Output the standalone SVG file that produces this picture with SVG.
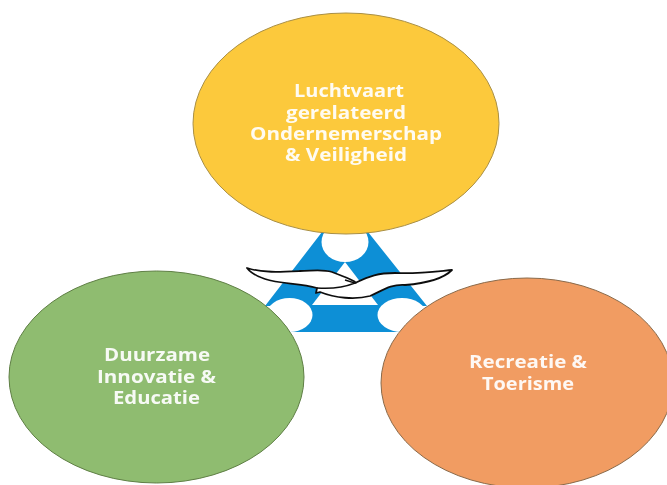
<svg xmlns="http://www.w3.org/2000/svg" width="667" height="485" viewBox="0 0 667 485">
<style>
.t{font-family:"Open Sans","Liberation Sans",sans-serif;font-weight:700;font-size:17px;fill:#fff;text-anchor:start;fill-opacity:.93}
.e{stroke-width:1}
</style>
<defs><filter id="soft" x="-5%" y="-5%" width="110%" height="110%"><feGaussianBlur stdDeviation="0.45"/></filter></defs>
<rect width="667" height="485" fill="#fff"/>
<g id="logo" filter="url(#soft)">
<path d="M322,232 L368,232 L427,306 L402,306 L402,332 L290,332 L290,306 L265,306 Z" fill="#0f8fd6"/>
<ellipse cx="345" cy="242" rx="23.500" ry="20" fill="#fff"/>
<ellipse cx="289.500" cy="315" rx="23" ry="17" fill="#fff"/>
<ellipse cx="402" cy="315" rx="24.500" ry="17" fill="#fff"/>
<polygon points="345,262 378,305 312,305" fill="#fff"/>
<path d="M247,268 C262,273 280,272 300,271 C312,271 322,269 332,272 C345,277 358,282 355,283 C370,276 378,273 395,273 C420,274 440,271 452,270 C445,277 430,283 405,285 C390,284 382,291 370,296 C355,300 335,298 320,292 L316,293 L317,288 C300,283 280,284 265,279 C256,276 250,272 247,268 Z" fill="#fff" stroke="#111" stroke-width="1.8" stroke-linejoin="round"/>
<path d="M345,280 L355,283 C345,287 330,289 317,288" fill="none" stroke="#111" stroke-width="1.5"/>
</g>
<g id="node-top"><ellipse class="e" cx="346" cy="123.500" rx="153" ry="110.500" fill="#fcc93c" stroke="#a98f45"/>
<text class="t" x="294" y="97" textLength="110" lengthAdjust="spacingAndGlyphs" filter="url(#soft)">Luchtvaart</text><text class="t" x="286" y="119" textLength="120" lengthAdjust="spacingAndGlyphs" filter="url(#soft)">gerelateerd</text><text class="t" x="250" y="140" textLength="192" lengthAdjust="spacingAndGlyphs" filter="url(#soft)">Ondernemerschap</text><text class="t" x="285" y="161" textLength="122" lengthAdjust="spacingAndGlyphs" filter="url(#soft)">&amp; Veiligheid</text></g>
<g id="node-left"><ellipse class="e" cx="156.500" cy="377" rx="147.500" ry="106" fill="#8fbc70" stroke="#5f7f45"/>
<text class="t" x="104" y="361" textLength="106" lengthAdjust="spacingAndGlyphs" filter="url(#soft)">Duurzame</text><text class="t" x="97" y="383" textLength="119" lengthAdjust="spacingAndGlyphs" filter="url(#soft)">Innovatie &amp;</text><text class="t" x="113" y="404" textLength="87" lengthAdjust="spacingAndGlyphs" filter="url(#soft)">Educatie</text></g>
<g id="node-right"><ellipse class="e" cx="527" cy="383" rx="146" ry="105" fill="#f19c62" stroke="#8a6a4a"/>
<text class="t" x="469" y="368" textLength="118" lengthAdjust="spacingAndGlyphs" filter="url(#soft)">Recreatie &amp;</text><text class="t" x="482" y="390" textLength="92" lengthAdjust="spacingAndGlyphs" filter="url(#soft)">Toerisme</text></g>
<g id="connectors"></g>
</svg>
